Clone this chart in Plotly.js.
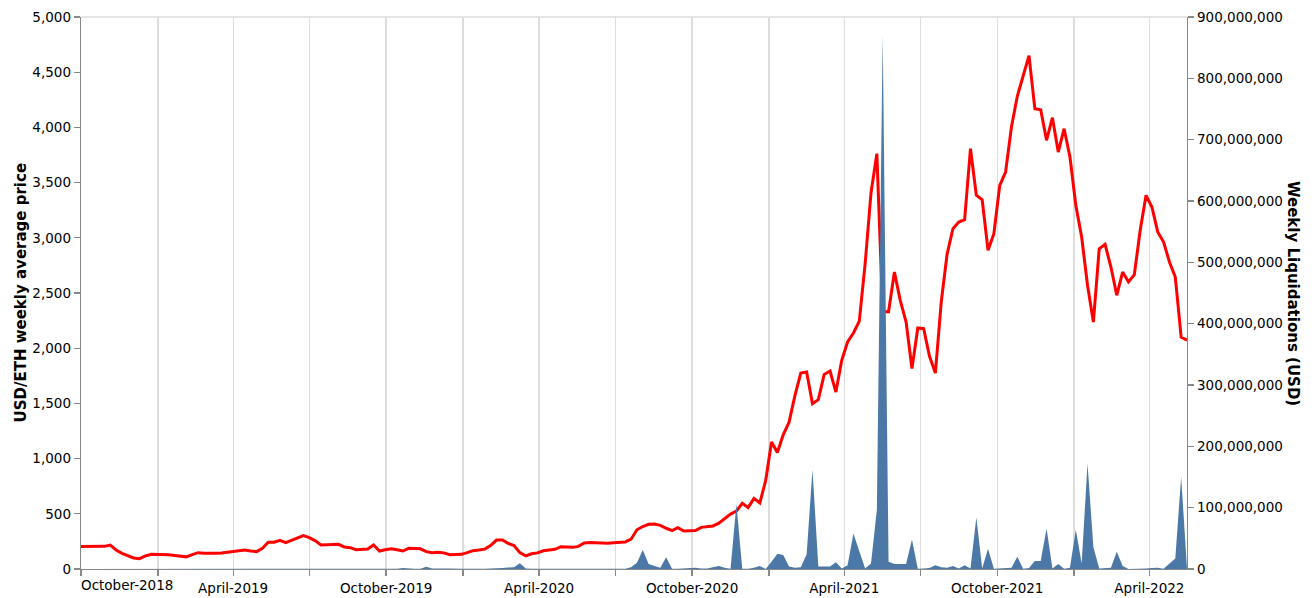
<!DOCTYPE html>
<html>
<head>
<meta charset="utf-8">
<script src="https://cdn.plot.ly/plotly-3.0.1.min.js"></script>
<style>
  html, body { margin: 0; padding: 0; background: #fff; }
  #chart { width: 1314px; height: 598px; }
</style>
</head>
<body>
<div id="chart"></div>
<script>
// ---------- DATA ----------
const firstWeek = '2018-10-01';   // weekly points, one per Monday

// USD/ETH weekly average price
const ethPrice = [
  203, 203, 203, 203, 205, 217, 172, 142, 124, 100,
  93, 118, 133, 133, 131, 128, 122, 115, 110, 131,
  148, 142, 140, 142, 145, 151, 157, 166, 172, 163,
  157, 187, 242, 242, 260, 238, 260, 284, 302, 284,
  257, 217, 220, 222, 224, 200, 193, 175, 176, 182,
  217, 163, 174, 184, 175, 163, 187, 187, 183, 157,
  147, 152, 146, 130, 131, 133, 148, 166, 172, 180,
  213, 262, 263, 232, 212, 148, 118, 138, 146, 165,
  172, 178, 202, 202, 196, 205, 236, 240, 236, 232,
  233, 238, 242, 245, 270, 355, 385, 405, 408, 395,
  369, 347, 374, 344, 347, 348, 377, 385, 390, 415,
  455, 497, 525, 595, 557, 640, 598, 800, 1150, 1055,
  1215, 1330, 1570, 1775, 1784, 1497, 1534, 1763, 1793, 1603,
  1890, 2056, 2138, 2246, 2766, 3406, 3762, 2330, 2330, 2690,
  2434, 2237, 1815, 2183, 2177, 1926, 1775, 2418, 2850, 3082,
  3143, 3164, 3807, 3385, 3345, 2887, 3037, 3475, 3596, 4004,
  4282, 4457, 4650, 4170, 4160, 3883, 4088, 3777, 3988, 3732,
  3294, 3007, 2570, 2237, 2901, 2941, 2735, 2479, 2690, 2600,
  2666, 3068, 3385, 3279, 3053, 2962, 2781, 2645, 2101, 2072
];

// Weekly liquidations, millions of USD
const liquidationsM = [
  0, 0, 0, 0, 0, 0, 0, 0, 0, 0,
  0, 0, 0, 0, 0, 0, 0, 0, 0, 0,
  0, 0, 0, 0, 0, 0, 0, 0, 0, 0,
  0, 0, 0, 0, 0, 0, 0, 0, 0, 0,
  0, 1, 0.3, 0.2, 0.2, 0.2, 0.3, 0.2, 0.3, 0.5,
  0.5, 1, 0.3, 0.3, 0.5, 1.5, 0.5, 0.3, 0.5, 3.5,
  1, 0.5, 1, 1, 0.3, 0.3, 0.5, 1, 0.3, 0.5,
  0.5, 0.5, 1.5, 2.5, 3, 9.5, 1, 0.5, 0.5, 0.3,
  0.5, 0.5, 0.3, 0.3, 1, 0.5, 0.5, 0.3, 0.5, 0.5,
  1, 0.5, 0.3, 0.5, 3, 10, 31, 8, 5, 2,
  19, 0.5, 0.5, 1, 1, 2, 1, 1, 3, 5,
  2, 0.5, 106, 0.5, 0.5, 2, 5, 0, 12, 25,
  23, 4, 2, 3, 24, 162, 4, 4.5, 4, 11,
  1, 6, 58, 29, 1, 9, 96, 870, 12, 8,
  8, 8, 48, 0.5, 1, 1.5, 6, 3, 2, 5,
  1, 6, 1, 84, 1, 33, 0.5, 1, 1.5, 2,
  20, 0.5, 1.5, 13, 13, 66, 1, 8, 0.5, 2,
  64, 9, 172, 36, 1, 1.5, 2, 28, 5, 0.2,
  0.2, 0.3, 1, 1.5, 2, 0.5, 8, 17, 150, 1
];

const tickDates = [
  '2018-10-01', '2019-01-01', '2019-04-01', '2019-07-01', '2019-10-01',
  '2020-01-01', '2020-04-01', '2020-07-01', '2020-10-01', '2021-01-01',
  '2021-04-01', '2021-07-01', '2021-10-01', '2022-01-01', '2022-04-01'
];
const tickLabels = [
  'October-2018', '', 'April-2019', '', 'October-2019',
  '', 'April-2020', '', 'October-2020', '',
  'April-2021', '', 'October-2021', '', 'April-2022'
];

const leftTitle = 'USD/ETH weekly average price';
const rightTitle = 'Weekly Liquidations (USD)';

// ---------- BUILD ----------
function addDays(iso, n) {
  const d = new Date(iso + 'T00:00:00Z');
  d.setUTCDate(d.getUTCDate() + n);
  return d.toISOString().slice(0, 10);
}
const weeks = ethPrice.map((_, i) => addDays(firstWeek, 7 * i));
const liquidations = liquidationsM.map(v => v * 1e6);

const FONT = 'DejaVu Sans, Verdana, sans-serif';
const plotL = 81, plotR = 1187, plotW = plotR - plotL;

const priceTrace = {
  x: weeks, y: ethPrice, type: 'scatter', mode: 'lines',
  line: { color: '#ff0000', width: 3 },
  yaxis: 'y', hoverinfo: 'skip', showlegend: false
};
const liqTrace = {
  x: weeks, y: liquidations, type: 'scatter', mode: 'lines',
  fill: 'tozeroy', fillcolor: '#4c78a8',
  line: { color: '#4c78a8', width: 0 },
  yaxis: 'y2', hoverinfo: 'skip', showlegend: false
};

// first tick label is drawn flush-left like the original
const shownTicks = tickLabels.map((t, i) => i === 0 ? '' : t);

const layout = {
  width: 1314, height: 598,
  margin: { l: plotL, r: 1314 - plotR, t: 17, b: 29 },
  paper_bgcolor: '#fff', plot_bgcolor: '#fff',
  font: { family: FONT, size: 13.5, color: '#000' },
  xaxis: {
    type: 'date',
    range: [weeks[0], weeks[weeks.length - 1]],
    tickmode: 'array', tickvals: tickDates, ticktext: shownTicks,
    showgrid: true, gridcolor: '#ddd', gridwidth: 1.3,
    showline: true, linecolor: '#888', linewidth: 1.3,
    ticks: 'outside', ticklen: 6, tickcolor: '#888', tickwidth: 1.3,
    zeroline: false, fixedrange: true,
    tickfont: { family: FONT, size: 13.5, color: '#000' }
  },
  yaxis: {
    range: [0, 5000], dtick: 500, tickformat: ',',
    showgrid: false, zeroline: false,
    showline: true, linecolor: '#888', linewidth: 1.3,
    ticks: 'outside', ticklen: 6, tickcolor: '#888', tickwidth: 1.3,
    tickfont: { family: FONT, size: 13.5, color: '#000' },
    fixedrange: true
  },
  yaxis2: {
    overlaying: 'y', side: 'right',
    range: [0, 900e6], dtick: 100e6, tickformat: ',',
    showgrid: false, zeroline: false,
    showline: true, linecolor: '#888', linewidth: 1.3,
    ticks: 'outside', ticklen: 6, tickcolor: '#888', tickwidth: 1.3,
    tickfont: { family: FONT, size: 13.5, color: '#000' },
    fixedrange: true
  },
  shapes: [{
    type: 'line', xref: 'paper', yref: 'paper',
    x0: 0, x1: 1, y0: 1, y1: 1,
    line: { color: '#ddd', width: 1.3 }
  }],
  annotations: [
    {
      text: tickLabels[0], xref: 'paper', yref: 'paper',
      x: 0, y: 0, xanchor: 'left', yanchor: 'top', yshift: -6, xshift: -2,
      showarrow: false, font: { family: FONT, size: 13.5, color: '#000' }
    },
    {
      text: '<b>' + leftTitle + '</b>', xref: 'paper', yref: 'paper',
      x: (20.5 - plotL) / plotW, y: 0.5, xanchor: 'center', yanchor: 'middle',
      textangle: -90, showarrow: false,
      font: { family: FONT, size: 15, color: '#000' }
    },
    {
      text: '<b>' + rightTitle + '</b>', xref: 'paper', yref: 'paper',
      x: (1293 - plotL) / plotW, y: 0.5, xanchor: 'center', yanchor: 'middle',
      textangle: 90, showarrow: false,
      font: { family: FONT, size: 15, color: '#000' }
    }
  ]
};

Plotly.newPlot('chart', [priceTrace, liqTrace], layout, { staticPlot: true, displayModeBar: false });
</script>
</body>
</html>
